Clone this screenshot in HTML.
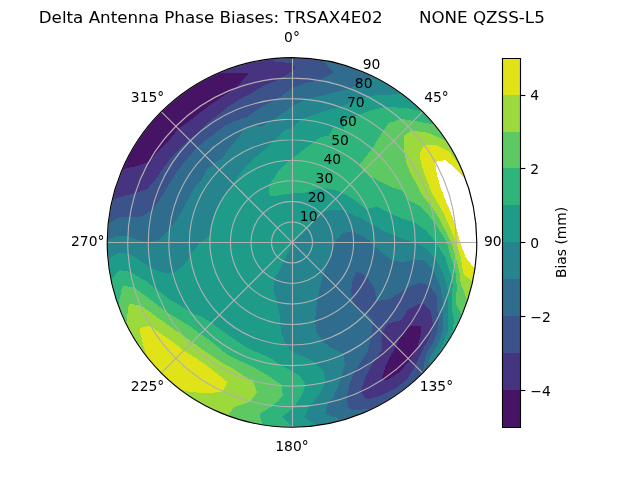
<!DOCTYPE html>
<html><head><meta charset="utf-8"><title>Delta Antenna Phase Biases</title>
<style>html,body{margin:0;padding:0;background:#fff;width:640px;height:480px;overflow:hidden}svg{display:block}svg text{white-space:pre}</style></head>
<body>
<svg width="640" height="480" viewBox="0 0 460.8 345.6">
 
 <defs>
  <style type="text/css">*{stroke-linejoin: round; stroke-linecap: butt}</style>
 </defs>
 <g id="figure_1">
  <g id="patch_1">
   <path d="M 0 345.6 
L 460.8 345.6 
L 460.8 0 
L 0 0 
z
" style="fill: #ffffff"/>
  </g>
  <g id="axes_1">
   <g id="patch_2">
    <path d="M 343.296 174.528 
C 343.296 157.055246 339.854248 139.752393 333.167715 123.609673 
C 326.481182 107.466954 316.679903 92.798303 304.3248 80.4432 
C 291.969697 68.088097 277.301046 58.286818 261.158327 51.600285 
C 245.015607 44.913752 227.712754 41.472 210.24 41.472 
C 192.767246 41.472 175.464393 44.913752 159.321673 51.600285 
C 143.178954 58.286818 128.510303 68.088097 116.1552 80.4432 
C 103.800097 92.798303 93.998818 107.466954 87.312285 123.609673 
C 80.625752 139.752393 77.184 157.055246 77.184 174.528 
C 77.184 192.000754 80.625752 209.303607 87.312285 225.446327 
C 93.998818 241.589046 103.800097 256.257697 116.1552 268.6128 
C 128.510303 280.967903 143.178954 290.769182 159.321673 297.455715 
C 175.464393 304.142248 192.767246 307.584 210.24 307.584 
C 227.712754 307.584 245.015607 304.142248 261.158327 297.455715 
C 277.301046 290.769182 291.969697 280.967903 304.3248 268.6128 
C 316.679903 256.257697 326.481182 241.589046 333.167715 225.446327 
C 339.854248 209.303607 343.296 192.000754 343.296 174.528 
M 210.24 174.528 
C 210.24 174.528 210.24 174.528 210.24 174.528 
C 210.24 174.528 210.24 174.528 210.24 174.528 
C 210.24 174.528 210.24 174.528 210.24 174.528 
C 210.24 174.528 210.24 174.528 210.24 174.528 
C 210.24 174.528 210.24 174.528 210.24 174.528 
C 210.24 174.528 210.24 174.528 210.24 174.528 
C 210.24 174.528 210.24 174.528 210.24 174.528 
C 210.24 174.528 210.24 174.528 210.24 174.528 
C 210.24 174.528 210.24 174.528 210.24 174.528 
C 210.24 174.528 210.24 174.528 210.24 174.528 
C 210.24 174.528 210.24 174.528 210.24 174.528 
C 210.24 174.528 210.24 174.528 210.24 174.528 
C 210.24 174.528 210.24 174.528 210.24 174.528 
C 210.24 174.528 210.24 174.528 210.24 174.528 
C 210.24 174.528 210.24 174.528 210.24 174.528 
C 210.24 174.528 210.24 174.528 210.24 174.528 
z
" style="fill: #ffffff"/>
   </g>
   <g id="QuadContourSet_1" shape-rendering="crispEdges">
    <path d="M 289.155157 240.745679 
L 288.736916 241.966864 
L 285.092115 249.380115 
L 280.27514 257.99263 
L 277.977655 262.311737 
L 276.148038 268.654433 
L 274.586051 273.764342 
L 279.392993 273.28871 
L 288.168863 267.400002 
L 295.02207 259.31007 
L 300.308822 251.182245 
L 300.568168 250.322333 
L 303.154902 239.587715 
L 303.199344 234.967513 
L 295.657603 234.33805 
L 293.027687 236.624417 
z
M 108.185074 115.606561 
L 114.823973 107.716979 
L 122.168462 100.627205 
L 128.404979 92.692979 
L 136.700686 86.887258 
L 144.605889 80.792775 
L 152.545078 74.597463 
L 161.033452 69.004217 
L 169.651365 63.438717 
L 169.772832 63.34537 
L 177.987477 54.159945 
L 178.752583 52.872817 
L 177.528307 52.446301 
L 165.97522 52.911517 
L 157.600669 52.327345 
L 154.008105 53.938311 
L 143.712 59.298124 
L 133.922214 65.534906 
L 124.713252 72.601191 
L 116.1552 80.4432 
L 108.313191 89.001252 
L 101.246906 98.210214 
L 95.010124 108 
L 89.650311 118.296105 
L 87.953809 122.087685 
L 94.350441 120.487811 
L 97.037925 119.968572 
L 107.204059 116.460273 
z
" clip-path="url(#pded382b021)" style="fill: #471365"/>
    <path d="M 279.754746 232.857798 
L 274.957757 239.245757 
L 274.638685 245.852965 
L 275.153228 251.888573 
L 269.975534 259.034995 
L 269.674078 259.408661 
L 264.503908 268.515846 
L 262.874614 272.118839 
L 260.002921 281.244928 
L 259.847663 281.893478 
L 261.800151 285.099101 
L 264.890972 287.685908 
L 273.915212 284.816702 
L 284.162829 280.100741 
L 293.058136 273.226811 
L 299.097867 263.385867 
L 299.097867 263.385867 
L 303.630372 252.891826 
L 308.959255 243.651967 
L 311.808669 235.125619 
L 311.734597 233.125933 
L 309.817706 223.299456 
L 304.525345 218.493978 
L 304.112862 218.090048 
L 303.714184 218.115728 
L 293.591384 222.650944 
L 289.346994 229.919313 
L 288.104742 230.844278 
z
M 293.027687 236.624417 
L 295.657603 234.33805 
L 303.199344 234.967513 
L 303.154902 239.587715 
L 300.568168 250.322333 
L 300.308822 251.182245 
L 295.02207 259.31007 
L 288.168863 267.400002 
L 279.392993 273.28871 
L 274.586051 273.764342 
L 276.148038 268.654433 
L 277.977655 262.311737 
L 280.27514 257.99263 
L 285.092115 249.380115 
L 288.736916 241.966864 
L 289.155157 240.745679 
z
M 112.371849 128.891332 
L 117.440176 120.949997 
L 123.123372 113.52828 
L 129.665198 106.917713 
L 136.261637 100.549637 
L 143.354504 94.81697 
L 149.894486 88.345674 
L 157.178038 82.621986 
L 164.579825 76.609439 
L 172.676924 71.324296 
L 178.965518 68.149989 
L 181.405175 66.914967 
L 190.275373 61.302972 
L 200.022988 57.747016 
L 202.220887 56.52817 
L 210.24 51.466611 
L 210.24 48.864 
L 210.24 45.391522 
L 198.866986 44.533854 
L 195.780553 42.260001 
L 187.135068 43.49342 
L 175.802573 46.005773 
L 164.732168 49.496259 
L 157.600669 52.327345 
L 165.97522 52.911517 
L 177.528307 52.446301 
L 178.752583 52.872817 
L 177.987477 54.159945 
L 169.772832 63.34537 
L 169.651365 63.438717 
L 161.033452 69.004217 
L 152.545078 74.597463 
L 144.605889 80.792775 
L 136.700686 86.887258 
L 128.404979 92.692979 
L 122.168462 100.627205 
L 114.823973 107.716979 
L 108.185074 115.606561 
L 107.204059 116.460273 
L 97.037925 119.968572 
L 94.350441 120.487811 
L 87.953809 122.087685 
L 85.208259 129.020168 
L 81.717773 140.090573 
L 80.744323 143.954014 
L 87.542338 141.651261 
L 89.129254 141.007437 
L 97.395904 139.109418 
L 105.349863 136.351112 
L 106.38694 135.683228 
z
M 212.928322 48.892759 
L 210.24 45.391522 
L 210.24 48.864 
L 210.24 51.466611 
z
" clip-path="url(#pded382b021)" style="fill: #463480"/>
    <path d="M 256.674515 196.18077 
L 254.266316 199.946606 
L 253.719209 202.581518 
L 253.186046 204.599145 
L 252.883676 210.310293 
L 253.378721 214.976946 
L 256.276528 220.564528 
L 256.939933 221.910391 
L 259.131184 223.419184 
L 263.752579 225.523787 
L 269.063815 230.665333 
L 268.451417 232.739417 
L 267.121303 242.316497 
L 267.113001 242.600472 
L 264.957728 252.673014 
L 264.631231 253.749432 
L 259.892372 260.528431 
L 255.172721 267.75255 
L 254.408358 269.247349 
L 251.309836 277.521412 
L 250.050449 283.90631 
L 249.514057 286.08881 
L 250.748183 293.483992 
L 254.240518 295.418429 
L 266.138613 294.402963 
L 269.274296 293.770824 
L 276.768 289.757876 
L 286.557786 283.521094 
L 295.766748 276.454809 
L 304.3248 268.6128 
L 304.3248 268.6128 
L 306.467693 255.34676 
L 306.489326 255.290774 
L 312.272532 245.971948 
L 315.696576 235.413383 
L 315.787602 227.894373 
L 314.860979 223.313564 
L 314.373186 212.615453 
L 314.140446 212.344669 
L 309.057716 205.26601 
L 301.834463 203.595087 
L 296.0991 205.778157 
L 292.427128 207.89978 
L 287.933256 210.75696 
L 280.772823 215.250144 
L 280.499627 215.457527 
L 270.944257 216.708085 
L 270.088604 209.081608 
L 268.741428 206.206979 
L 264.582788 199.868458 
L 263.985059 199.196505 
L 257.434089 195.744962 
z
M 288.104742 230.844278 
L 289.346994 229.919313 
L 293.591384 222.650944 
L 303.714184 218.115728 
L 304.112862 218.090048 
L 304.525345 218.493978 
L 309.817706 223.299456 
L 311.734597 233.125933 
L 311.808669 235.125619 
L 308.959255 243.651967 
L 303.630372 252.891826 
L 299.097867 263.385867 
L 299.097867 263.385867 
L 293.058136 273.226811 
L 284.162829 280.100741 
L 273.915212 284.816702 
L 264.890972 287.685908 
L 261.800151 285.099101 
L 259.847663 281.893478 
L 260.002921 281.244928 
L 262.874614 272.118839 
L 264.503908 268.515846 
L 269.674078 259.408661 
L 269.975534 259.034995 
L 275.153228 251.888573 
L 274.638685 245.852965 
L 274.957757 239.245757 
L 279.754746 232.857798 
z
M 177.435255 84.397704 
L 178.727195 83.745929 
L 184.713629 79.262288 
L 192.650265 74.771658 
L 197.7111 71.801213 
L 201.121173 70.299331 
L 209.92549 63.648446 
L 210.24 63.467745 
L 210.24 56.256 
L 210.24 51.466611 
L 202.220887 56.52817 
L 200.022988 57.747016 
L 190.275373 61.302972 
L 181.405175 66.914967 
L 178.965518 68.149989 
L 172.676924 71.324296 
L 164.579825 76.609439 
L 157.178038 82.621986 
L 149.894486 88.345674 
L 143.354504 94.81697 
L 136.261637 100.549637 
L 129.665198 106.917713 
L 123.123372 113.52828 
L 117.440176 120.949997 
L 112.371849 128.891332 
L 106.38694 135.683228 
L 105.349863 136.351112 
L 97.395904 139.109418 
L 89.129254 141.007437 
L 87.542338 141.651261 
L 80.744323 143.954014 
L 79.20542 151.423068 
L 77.895435 160.786998 
L 85.875857 156.500221 
L 93.423125 156.032497 
L 100.909805 156.054158 
L 102.960686 155.611762 
L 109.438796 151.099738 
L 111.868619 148.169468 
L 117.072695 140.617874 
L 121.470702 133.134197 
L 125.902921 125.835965 
L 130.876935 118.957383 
L 136.300861 112.485696 
L 141.905974 106.193974 
L 148.310192 100.722929 
L 155.097914 95.77694 
L 161.776971 90.587571 
L 169.483876 87.12621 
L 172.731894 86.05437 
z
M 220.300648 59.534265 
L 229.733534 57.873518 
L 231.007879 56.747505 
L 240.311477 52.515102 
L 233.22428 44.177669 
L 233.049269 43.44163 
L 221.836595 41.978318 
L 210.24 41.472 
L 210.24 45.391522 
L 212.928322 48.892759 
L 210.24 51.466611 
L 210.24 56.256 
L 210.24 63.467745 
z
M 198.866986 44.533854 
L 210.24 45.391522 
L 210.24 41.472 
L 198.643405 41.978318 
L 195.780553 42.260001 
z
" clip-path="url(#pded382b021)" style="fill: #3b528b"/>
    <path d="M 238.55191 182.114154 
L 237.660372 184.508199 
L 236.803679 186.914847 
L 236.296645 188.503618 
L 235.962083 189.378652 
L 235.064539 191.91033 
L 234.118293 194.564267 
L 233.072105 197.360105 
L 231.938437 200.38719 
L 231.129136 204.360778 
L 230.950943 205.140064 
L 229.981397 208.721103 
L 228.858856 214.456267 
L 228.806049 214.807048 
L 227.599306 222.222301 
L 227.446247 223.327453 
L 226.906227 231.266905 
L 227.707012 238.722067 
L 231.835559 245.223108 
L 237.805413 250.26335 
L 238.971254 250.594789 
L 247.693916 254.936978 
L 248.142096 262.833563 
L 245.721488 271.74338 
L 245.66723 271.863514 
L 242.500622 280.611112 
L 240.029165 285.702677 
L 236.407125 289.869005 
L 233.991917 297.926895 
L 244.278743 301.562317 
L 246.413161 302.57253 
L 255.747832 299.559741 
L 266.471895 295.117689 
L 269.274296 293.770824 
L 266.138613 294.402963 
L 254.240518 295.418429 
L 250.748183 293.483992 
L 249.514057 286.08881 
L 250.050449 283.90631 
L 251.309836 277.521412 
L 254.408358 269.247349 
L 255.172721 267.75255 
L 259.892372 260.528431 
L 264.631231 253.749432 
L 264.957728 252.673014 
L 267.113001 242.600472 
L 267.121303 242.316497 
L 268.451417 232.739417 
L 269.063815 230.665333 
L 263.752579 225.523787 
L 259.131184 223.419184 
L 256.939933 221.910391 
L 256.276528 220.564528 
L 253.378721 214.976946 
L 252.883676 210.310293 
L 253.186046 204.599145 
L 253.719209 202.581518 
L 254.266316 199.946606 
L 256.674515 196.18077 
L 257.434089 195.744962 
L 263.985059 199.196505 
L 264.582788 199.868458 
L 268.741428 206.206979 
L 270.088604 209.081608 
L 270.944257 216.708085 
L 280.499627 215.457527 
L 280.772823 215.250144 
L 287.933256 210.75696 
L 292.427128 207.89978 
L 296.0991 205.778157 
L 301.834463 203.595087 
L 309.057716 205.26601 
L 314.140446 212.344669 
L 314.373186 212.615453 
L 314.860979 223.313564 
L 315.787602 227.894373 
L 315.696576 235.413383 
L 312.272532 245.971948 
L 306.489326 255.290774 
L 306.467693 255.34676 
L 304.3248 268.6128 
L 308.545349 264.19381 
L 309.477156 257.797861 
L 315.154144 247.989674 
L 319.094797 237.375346 
L 319.098487 237.307541 
L 319.063461 225.273213 
L 319.162531 220.616481 
L 318.505218 213.933317 
L 316.836535 205.049355 
L 315.545888 202.744628 
L 311.826423 194.275524 
L 309.850247 192.091974 
L 305.425358 187.726061 
L 298.103953 186.706892 
L 290.990065 188.766415 
L 290.248258 189.030413 
L 282.980886 187.678282 
L 282.30415 187.234854 
L 276.237696 182.91125 
L 273.289477 180.044115 
L 269.346802 176.386071 
L 267.114184 174.528 
L 261.815784 170.359061 
L 261.137315 170.075062 
L 254.35329 166.749637 
L 253.851262 166.455965 
L 246.588715 167.833787 
L 246.222046 168.183394 
L 243.339567 171.632163 
L 241.542357 174.528 
L 240.32203 177.159837 
L 239.404024 179.670404 
L 239.288101 180.048366 
z
M 137.037247 140.392996 
L 140.523798 134.277332 
L 145.499096 129.195931 
L 148.423241 122.657581 
L 153.809373 118.097373 
L 159.6207 114.202267 
L 163.918831 108.374515 
L 164.933956 107.007605 
L 168.763316 102.688276 
L 173.748456 96.271632 
L 175.075519 93.091774 
L 179.662696 90.517549 
L 182.71993 90.200986 
L 188.003953 91.541943 
L 193.937959 87.334863 
L 194.791579 86.915652 
L 202.188084 82.494178 
L 208.016985 78.457716 
L 210.24 76.616708 
L 210.24 71.04 
L 210.24 63.648 
L 210.24 63.467745 
L 209.92549 63.648446 
L 201.121173 70.299331 
L 197.7111 71.801213 
L 192.650265 74.771658 
L 184.713629 79.262288 
L 178.727195 83.745929 
L 177.435255 84.397704 
L 172.731894 86.05437 
L 169.483876 87.12621 
L 161.776971 90.587571 
L 155.097914 95.77694 
L 148.310192 100.722929 
L 141.905974 106.193974 
L 136.300861 112.485696 
L 130.876935 118.957383 
L 125.902921 125.835965 
L 121.470702 133.134197 
L 117.072695 140.617874 
L 111.868619 148.169468 
L 109.438796 151.099738 
L 102.960686 155.611762 
L 100.909805 156.054158 
L 93.423125 156.032497 
L 85.875857 156.500221 
L 77.895435 160.786998 
L 77.690318 162.931405 
L 77.194052 172.892512 
L 84.662351 169.870204 
L 92.045411 170.249559 
L 99.376013 172.643641 
L 106.752046 174.430122 
L 114.164686 172.534196 
L 120.394762 166.66756 
L 122.094712 164.587789 
L 126.091055 159.690271 
L 130.259391 153.09726 
L 133.813807 146.711141 
L 133.910924 146.500986 
z
M 219.233512 71.731682 
L 219.971722 71.498588 
L 228.750633 69.548981 
L 238.197177 67.23042 
L 239.059155 66.973449 
L 250.382644 64.236991 
L 251.767497 63.78626 
L 259.935088 59.107728 
L 265.617611 55.770331 
L 268.131049 54.725973 
L 266.471895 53.938311 
L 255.747832 49.496259 
L 244.677427 46.005773 
L 233.344932 43.49342 
L 233.049269 43.44163 
L 233.22428 44.177669 
L 240.311477 52.515102 
L 231.007879 56.747505 
L 229.733534 57.873518 
L 220.300648 59.534265 
L 210.24 63.467745 
L 210.24 63.648 
L 210.24 71.04 
L 210.24 76.616708 
z
" clip-path="url(#pded382b021)" style="fill: #2f6c8e"/>
    <path d="M 211.849079 173.401311 
L 211.191777 173.978491 
L 210.937728 174.202644 
L 210.802409 174.3233 
L 210.718059 174.399904 
L 210.660257 174.453897 
L 210.618025 174.494927 
L 210.585681 174.528 
L 210.559976 174.555994 
L 210.538904 174.580705 
L 210.52115 174.603334 
L 210.505803 174.624745 
L 210.492203 174.645604 
L 210.479842 174.666473 
L 210.46831 174.687864 
L 210.457248 174.710293 
L 210.446322 174.734322 
L 210.435186 174.760614 
L 210.423452 174.789997 
L 210.410644 174.823564 
L 210.396133 174.862829 
L 210.379031 174.909986 
L 210.358001 174.968386 
L 210.330887 175.043448 
L 210.293945 175.14459 
L 210.24 175.2898 
L 210.153362 175.518275 
L 209.991947 175.934778 
L 209.592067 176.946117 
L 207.768258 181.494502 
L 207.529807 181.974193 
L 204.35357 188.089586 
L 201.105884 194.735496 
L 199.746976 197.030362 
L 197.104495 201.018095 
L 197.076093 202.758089 
L 197.151225 209.092802 
L 197.402182 209.799616 
L 199.124805 216.010471 
L 199.359286 217.524627 
L 201.168697 225.470644 
L 201.218219 225.693063 
L 201.801028 233.058763 
L 202.6116 240.6172 
L 204.180885 243.784003 
L 206.038469 248.328498 
L 210.24 252.969002 
L 215.654928 255.659498 
L 217.398522 256.350281 
L 225.256943 259.693318 
L 227.309449 261.574157 
L 233.289567 267.818721 
L 234.279073 275.185285 
L 230.361332 283.567013 
L 229.606307 284.359784 
L 223.552588 292.048385 
L 220.941824 296.850411 
L 218.849592 299.896719 
L 221.385616 301.922972 
L 228.157989 306.372017 
L 233.344932 305.56258 
L 244.677427 303.050227 
L 246.413161 302.57253 
L 244.278743 301.562317 
L 233.991917 297.926895 
L 236.407125 289.869005 
L 240.029165 285.702677 
L 242.500622 280.611112 
L 245.66723 271.863514 
L 245.721488 271.74338 
L 248.142096 262.833563 
L 247.693916 254.936978 
L 238.971254 250.594789 
L 237.805413 250.26335 
L 231.835559 245.223108 
L 227.707012 238.722067 
L 226.906227 231.266905 
L 227.446247 223.327453 
L 227.599306 222.222301 
L 228.806049 214.807048 
L 228.858856 214.456267 
L 229.981397 208.721103 
L 230.950943 205.140064 
L 231.129136 204.360778 
L 231.938437 200.38719 
L 233.072105 197.360105 
L 234.118293 194.564267 
L 235.064539 191.91033 
L 235.962083 189.378652 
L 236.296645 188.503618 
L 236.803679 186.914847 
L 237.660372 184.508199 
L 238.55191 182.114154 
L 239.288101 180.048366 
L 239.404024 179.670404 
L 240.32203 177.159837 
L 241.542357 174.528 
L 243.339567 171.632163 
L 246.222046 168.183394 
L 246.588715 167.833787 
L 253.851262 166.455965 
L 254.35329 166.749637 
L 261.137315 170.075062 
L 261.815784 170.359061 
L 267.114184 174.528 
L 269.346802 176.386071 
L 273.289477 180.044115 
L 276.237696 182.91125 
L 282.30415 187.234854 
L 282.980886 187.678282 
L 290.248258 189.030413 
L 290.990065 188.766415 
L 298.103953 186.706892 
L 305.425358 187.726061 
L 309.850247 192.091974 
L 311.826423 194.275524 
L 315.545888 202.744628 
L 316.836535 205.049355 
L 318.505218 213.933317 
L 319.162531 220.616481 
L 319.063461 225.273213 
L 319.098487 237.307541 
L 319.094797 237.375346 
L 315.154144 247.989674 
L 309.477156 257.797861 
L 308.545349 264.19381 
L 312.166809 260.054748 
L 313.399921 258.563289 
L 317.873444 249.893749 
L 322.247291 239.19544 
L 322.507346 230.985807 
L 322.400798 226.829439 
L 322.263769 215.301318 
L 322.598944 211.456766 
L 321.520065 204.345404 
L 318.932595 196.443613 
L 317.509223 193.442458 
L 313.111875 185.803796 
L 310.618672 183.309996 
L 306.257525 178.41079 
L 298.943837 174.698149 
L 298.188119 174.528 
L 291.525138 172.438091 
L 284.005298 169.748122 
L 281.055518 168.332445 
L 276.267724 166.384629 
L 271.849155 163.664644 
L 267.97717 161.741848 
L 265.022894 159.848968 
L 259.292983 156.674174 
L 258.727586 156.461578 
L 253.291128 154.452929 
L 249.201929 152.03332 
L 248.163048 151.529254 
L 243.308101 151.373467 
L 238.803217 151.071993 
L 237.832466 151.375172 
L 231.837721 152.930279 
L 230.780824 153.259686 
L 227.988455 156.779545 
L 226.211877 159.143783 
L 221.838094 164.796044 
L 221.620584 165.091424 
L 215.936437 169.817133 
z
M 154.943763 154.401816 
L 155.323624 152.590404 
L 156.409475 149.426414 
L 157.587155 147.606923 
L 159.465122 145.213111 
L 160.673054 142.276111 
L 161.6564 140.509397 
L 164.589967 136.223074 
L 167.664153 131.952153 
L 170.865761 127.60361 
L 174.315414 123.222375 
L 178.14153 118.93182 
L 182.397415 114.819383 
L 183.622063 113.557022 
L 187.027525 110.752249 
L 191.987423 106.408454 
L 196.641272 101.869614 
L 197.304603 101.167717 
L 203.271863 94.881834 
L 206.714511 93.292464 
L 210.24 92.359858 
L 210.24 85.824 
L 210.24 78.432 
L 210.24 76.616708 
L 208.016985 78.457716 
L 202.188084 82.494178 
L 194.791579 86.915652 
L 193.937959 87.334863 
L 188.003953 91.541943 
L 182.71993 90.200986 
L 179.662696 90.517549 
L 175.075519 93.091774 
L 173.748456 96.271632 
L 168.763316 102.688276 
L 164.933956 107.007605 
L 163.918831 108.374515 
L 159.6207 114.202267 
L 153.809373 118.097373 
L 148.423241 122.657581 
L 145.499096 129.195931 
L 140.523798 134.277332 
L 137.037247 140.392996 
L 133.910924 146.500986 
L 133.813807 146.711141 
L 130.259391 153.09726 
L 126.091055 159.690271 
L 122.094712 164.587789 
L 120.394762 166.66756 
L 114.164686 172.534196 
L 106.752046 174.430122 
L 99.376013 172.643641 
L 92.045411 170.249559 
L 84.662351 169.870204 
L 77.194052 172.892512 
L 77.184 174.528 
L 77.690318 186.124595 
L 77.810178 187.421466 
L 79.547155 185.962142 
L 84.8011 182.046191 
L 92.245855 182.63033 
L 95.950888 184.527002 
L 100.091049 187.239532 
L 108.105978 192.536984 
L 108.356982 192.683352 
L 116.608211 196.150426 
L 124.330913 196.619365 
L 130.907516 192.360506 
L 134.414504 187.898081 
L 136.900047 183.770173 
L 139.439994 180.722198 
L 143.71276 174.845996 
L 144.38651 174.528 
L 151.165583 169.359658 
L 151.407934 164.154319 
L 152.950827 159.177412 
L 153.801961 156.869738 
z
M 216.629371 86.054413 
L 218.036471 85.413925 
L 226.450588 82.593186 
L 231.266468 80.760581 
L 235.715891 79.450679 
L 245.347981 77.17711 
L 245.712695 77.067572 
L 253.882989 72.598299 
L 258.367709 71.317795 
L 264.95745 69.674451 
L 271.522175 68.384159 
L 277.331349 68.272686 
L 284.889642 67.917263 
L 288.987348 67.277105 
L 286.557786 65.534906 
L 276.768 59.298124 
L 268.131049 54.725973 
L 265.617611 55.770331 
L 259.935088 59.107728 
L 251.767497 63.78626 
L 250.382644 64.236991 
L 239.059155 66.973449 
L 238.197177 67.23042 
L 228.750633 69.548981 
L 219.971722 71.498588 
L 219.233512 71.731682 
L 210.24 76.616708 
L 210.24 78.432 
L 210.24 85.824 
L 210.24 92.359858 
z
" clip-path="url(#pded382b021)" style="fill: #25848e"/>
    <path d="M 210.24 174.528 
L 210.24 174.528 
L 210.24 174.528 
L 210.24 174.528 
L 210.24 174.528 
L 210.24 174.528 
L 210.24 174.528 
L 210.24 174.528 
L 210.24 174.528 
L 210.24 174.528 
L 210.24 174.528 
L 210.24 174.528 
L 210.24 174.528 
L 210.24 174.528 
L 210.24 174.528 
L 210.24 174.528 
L 210.24 174.528 
L 210.24 174.528 
L 210.24 174.528 
L 210.24 174.528 
L 210.24 174.528 
L 210.24 174.528 
L 210.24 174.528 
L 210.24 174.528 
L 210.24 174.528 
L 210.24 174.528 
L 210.24 174.528 
L 210.24 174.528 
L 210.24 174.528 
L 210.24 174.528 
L 210.24 174.528 
L 210.24 174.528 
L 210.24 174.528 
L 210.24 174.528 
L 210.24 174.528 
L 210.24 174.528 
L 210.24 174.528 
L 210.24 174.528 
L 210.24 174.528 
L 210.24 174.528 
L 210.24 174.528 
L 210.24 174.528 
L 210.24 174.528 
L 210.24 174.528 
L 210.24 174.528 
L 210.24 174.528 
L 210.24 174.528 
L 210.24 174.528 
L 210.24 174.528 
L 210.24 174.528 
L 210.24 174.528 
L 210.24 174.528 
L 210.24 174.528 
L 210.24 174.528 
L 210.24 174.528 
L 210.24 174.528 
L 210.24 174.528 
L 210.24 174.528 
L 210.24 174.528 
L 210.24 174.528 
L 210.24 174.528 
L 210.24 174.528 
L 210.24 174.528 
L 210.24 174.528 
L 210.24 174.528 
L 210.24 174.528 
L 210.24 174.528 
L 210.24 174.528 
L 210.24 174.528 
L 210.24 174.528 
L 210.24 174.528 
L 210.24 174.528 
L 210.24 167.136 
L 210.24 159.744 
L 210.24 152.352 
L 210.24 144.96 
L 210.24 139.19078 
L 207.182153 139.576645 
L 204.160247 140.048009 
L 201.149059 140.600146 
L 198.105867 141.189743 
L 194.760566 141.332246 
L 194.26907 141.196769 
L 194.081617 139.876235 
L 193.277251 133.547943 
L 194.707843 131.853751 
L 197.759928 127.951738 
L 199.591528 123.891535 
L 201.066208 122.500841 
L 205.348908 118.622566 
L 208.344119 115.422398 
L 210.24 114.395877 
L 210.24 108 
L 210.24 100.608 
L 210.24 93.216 
L 210.24 92.359858 
L 206.714511 93.292464 
L 203.271863 94.881834 
L 197.304603 101.167717 
L 196.641272 101.869614 
L 191.987423 106.408454 
L 187.027525 110.752249 
L 183.622063 113.557022 
L 182.397415 114.819383 
L 178.14153 118.93182 
L 174.315414 123.222375 
L 170.865761 127.60361 
L 167.664153 131.952153 
L 164.589967 136.223074 
L 161.6564 140.509397 
L 160.673054 142.276111 
L 159.465122 145.213111 
L 157.587155 147.606923 
L 156.409475 149.426414 
L 155.323624 152.590404 
L 154.943763 154.401816 
L 153.801961 156.869738 
L 152.950827 159.177412 
L 151.407934 164.154319 
L 151.165583 169.359658 
L 144.38651 174.528 
L 143.71276 174.845996 
L 139.439994 180.722198 
L 136.900047 183.770173 
L 134.414504 187.898081 
L 130.907516 192.360506 
L 124.330913 196.619365 
L 116.608211 196.150426 
L 108.356982 192.683352 
L 108.105978 192.536984 
L 100.091049 187.239532 
L 95.950888 184.527002 
L 92.245855 182.63033 
L 84.8011 182.046191 
L 79.547155 185.962142 
L 77.810178 187.421466 
L 79.20542 197.632932 
L 79.993888 201.728174 
L 83.708324 196.838948 
L 86.155081 194.386844 
L 91.586744 195.44977 
L 93.898858 195.811907 
L 102.554705 200.952451 
L 105.465627 202.602209 
L 112.350427 208.104742 
L 114.280731 209.454318 
L 122.175733 215.593042 
L 123.950543 216.819499 
L 130.72035 220.438691 
L 137.42391 225.185839 
L 137.724145 225.304148 
L 145.975544 228.452281 
L 152.447118 232.320882 
L 157.957559 236.835787 
L 158.525265 237.275331 
L 163.877307 240.740787 
L 169.36429 244.81895 
L 169.57659 244.959091 
L 175.528376 248.967318 
L 181.927737 252.315302 
L 188.646531 255.115924 
L 195.471096 258.286618 
L 201.966898 262.845356 
L 202.493013 263.076469 
L 210.24 267.269893 
L 215.621564 270.473193 
L 219.064554 275.393118 
L 220.235606 277.532146 
L 219.406122 279.297249 
L 216.89686 285.207992 
L 211.933342 292.787877 
L 210.24 294.648 
L 203.193963 299.994307 
L 210.24 306.714353 
L 211.22123 307.580382 
L 221.836595 307.077682 
L 228.157989 306.372017 
L 221.385616 301.922972 
L 218.849592 299.896719 
L 220.941824 296.850411 
L 223.552588 292.048385 
L 229.606307 284.359784 
L 230.361332 283.567013 
L 234.279073 275.185285 
L 233.289567 267.818721 
L 227.309449 261.574157 
L 225.256943 259.693318 
L 217.398522 256.350281 
L 215.654928 255.659498 
L 210.24 252.969002 
L 206.038469 248.328498 
L 204.180885 243.784003 
L 202.6116 240.6172 
L 201.801028 233.058763 
L 201.218219 225.693063 
L 201.168697 225.470644 
L 199.359286 217.524627 
L 199.124805 216.010471 
L 197.402182 209.799616 
L 197.151225 209.092802 
L 197.076093 202.758089 
L 197.104495 201.018095 
L 199.746976 197.030362 
L 201.105884 194.735496 
L 204.35357 188.089586 
L 207.529807 181.974193 
L 207.768258 181.494502 
L 209.592067 176.946117 
L 209.991947 175.934778 
L 210.153362 175.518275 
L 210.24 175.2898 
L 210.293945 175.14459 
L 210.330887 175.043448 
L 210.358001 174.968386 
L 210.379031 174.909986 
L 210.396133 174.862829 
L 210.410644 174.823564 
L 210.423452 174.789997 
L 210.435186 174.760614 
L 210.446322 174.734322 
L 210.457248 174.710293 
L 210.46831 174.687864 
L 210.479842 174.666473 
L 210.492203 174.645604 
L 210.505803 174.624745 
L 210.52115 174.603334 
L 210.538904 174.580705 
L 210.559976 174.555994 
L 210.585681 174.528 
L 210.618025 174.494927 
L 210.660257 174.453897 
L 210.718059 174.399904 
L 210.802409 174.3233 
L 210.937728 174.202644 
L 211.191777 173.978491 
L 211.849079 173.401311 
L 215.936437 169.817133 
L 221.620584 165.091424 
L 221.838094 164.796044 
L 226.211877 159.143783 
L 227.988455 156.779545 
L 230.780824 153.259686 
L 231.837721 152.930279 
L 237.832466 151.375172 
L 238.803217 151.071993 
L 243.308101 151.373467 
L 248.163048 151.529254 
L 249.201929 152.03332 
L 253.291128 154.452929 
L 258.727586 156.461578 
L 259.292983 156.674174 
L 265.022894 159.848968 
L 267.97717 161.741848 
L 271.849155 163.664644 
L 276.267724 166.384629 
L 281.055518 168.332445 
L 284.005298 169.748122 
L 291.525138 172.438091 
L 298.188119 174.528 
L 298.943837 174.698149 
L 306.257525 178.41079 
L 310.618672 183.309996 
L 313.111875 185.803796 
L 317.509223 193.442458 
L 318.932595 196.443613 
L 321.520065 204.345404 
L 322.598944 211.456766 
L 322.263769 215.301318 
L 322.400798 226.829439 
L 322.507346 230.985807 
L 322.247291 239.19544 
L 317.873444 249.893749 
L 313.399921 258.563289 
L 319.233094 250.845786 
L 325.221911 241.483651 
L 325.399785 241.015533 
L 327.113921 229.027204 
L 325.51043 224.569672 
L 325.164949 216.357261 
L 325.905882 205.52058 
L 325.540854 200.871483 
L 323.304638 194.464346 
L 320.591775 185.338189 
L 319.843529 184.117066 
L 313.789198 174.528 
L 313.727893 174.379048 
L 306.716346 166.087413 
L 305.877791 165.154949 
L 297.72087 159.848183 
L 296.463793 159.324419 
L 289.713694 157.335753 
L 283.459665 154.90885 
L 281.111465 153.518435 
L 275.181898 150.891082 
L 271.447655 148.458904 
L 264.307814 150.575172 
L 262.829517 150.005106 
L 258.552142 146.634972 
L 254.480363 143.550564 
L 250.27542 140.934294 
L 248.932668 140.17223 
L 246.0457 138.7223 
L 241.687763 137.050016 
L 237.223043 135.992221 
L 232.702316 135.622127 
L 231.443739 135.57288 
L 228.207446 135.996688 
L 223.69773 137.553191 
L 219.878818 138.555441 
L 219.0727 138.638935 
L 216.543197 138.780793 
L 213.350507 138.974741 
L 210.24 139.19078 
L 210.24 144.96 
L 210.24 152.352 
L 210.24 159.744 
L 210.24 167.136 
L 210.24 174.528 
z
M 215.884631 110.009572 
L 217.719256 108.421756 
L 222.536304 104.792197 
L 226.252646 102.363178 
L 230.554275 98.714094 
L 236.732955 97.653006 
L 240.382213 91.102305 
L 240.685923 90.878515 
L 243.782118 92.410243 
L 247.433673 94.76591 
L 247.980488 94.253127 
L 247.98373 93.58631 
L 247.910413 86.123355 
L 251.72631 85.560321 
L 258.270127 82.860814 
L 264.565052 80.434249 
L 267.137324 79.359366 
L 277.305624 77.108967 
L 278.443035 77.123971 
L 290.186381 77.574315 
L 291.69658 77.451828 
L 304.290408 80.408821 
L 295.766748 72.601191 
L 288.987348 67.277105 
L 284.889642 67.917263 
L 277.331349 68.272686 
L 271.522175 68.384159 
L 264.95745 69.674451 
L 258.367709 71.317795 
L 253.882989 72.598299 
L 245.712695 77.067572 
L 245.347981 77.17711 
L 235.715891 79.450679 
L 231.266468 80.760581 
L 226.450588 82.593186 
L 218.036471 85.413925 
L 216.629371 86.054413 
L 210.24 92.359858 
L 210.24 93.216 
L 210.24 100.608 
L 210.24 108 
L 210.24 114.395877 
z
" clip-path="url(#pded382b021)" style="fill: #1e9c89"/>
    <path d="M 213.350507 138.974741 
L 216.543197 138.780793 
L 219.0727 138.638935 
L 219.878818 138.555441 
L 223.69773 137.553191 
L 228.207446 135.996688 
L 231.443739 135.57288 
L 232.702316 135.622127 
L 237.223043 135.992221 
L 241.687763 137.050016 
L 246.0457 138.7223 
L 248.932668 140.17223 
L 250.27542 140.934294 
L 254.480363 143.550564 
L 258.552142 146.634972 
L 262.829517 150.005106 
L 264.307814 150.575172 
L 271.447655 148.458904 
L 275.181898 150.891082 
L 281.111465 153.518435 
L 283.459665 154.90885 
L 289.713694 157.335753 
L 296.463793 159.324419 
L 297.72087 159.848183 
L 305.877791 165.154949 
L 306.716346 166.087413 
L 313.727893 174.379048 
L 313.789198 174.528 
L 319.843529 184.117066 
L 320.591775 185.338189 
L 323.304638 194.464346 
L 325.540854 200.871483 
L 325.905882 205.52058 
L 325.164949 216.357261 
L 325.51043 224.569672 
L 327.113921 229.027204 
L 325.399785 241.015533 
L 325.221911 241.483651 
L 325.469876 241.056 
L 330.829689 230.759895 
L 332.428243 227.196136 
L 328.110634 218.093519 
L 328.066128 217.413203 
L 328.995731 206.348502 
L 327.816373 195.259887 
L 327.174537 192.264405 
L 324.197278 184.49797 
L 321.705418 174.528 
L 321.112218 173.214392 
L 315.842647 165.288966 
L 312.583807 159.181623 
L 310.175692 156.906641 
L 303.518135 149.534199 
L 302.712166 148.387232 
L 294.009573 144.038369 
L 291.871705 139.819725 
L 290.030223 137.321208 
L 281.058811 134.573809 
L 280.22461 134.122367 
L 273.276836 130.389132 
L 266.944872 127.107288 
L 266.821293 127.050658 
L 261.695461 123.072539 
L 258.741101 118.744404 
L 263.287987 112.903716 
L 267.987559 107.195845 
L 270.540845 102.664252 
L 271.709812 100.663913 
L 275.784511 94.442526 
L 280.061247 88.392247 
L 283.011718 87.802043 
L 288.189115 85.577444 
L 297.768292 86.999708 
L 300.919469 87.529868 
L 311.652171 89.433085 
L 313.03137 90.042301 
L 312.166809 89.001252 
L 304.3248 80.4432 
L 304.290408 80.408821 
L 291.69658 77.451828 
L 290.186381 77.574315 
L 278.443035 77.123971 
L 277.305624 77.108967 
L 267.137324 79.359366 
L 264.565052 80.434249 
L 258.270127 82.860814 
L 251.72631 85.560321 
L 247.910413 86.123355 
L 247.98373 93.58631 
L 247.980488 94.253127 
L 247.433673 94.76591 
L 243.782118 92.410243 
L 240.685923 90.878515 
L 240.382213 91.102305 
L 236.732955 97.653006 
L 230.554275 98.714094 
L 226.252646 102.363178 
L 222.536304 104.792197 
L 217.719256 108.421756 
L 215.884631 110.009572 
L 210.24 114.395877 
L 210.24 115.392 
L 210.24 122.784 
L 210.24 130.176 
L 210.24 137.568 
L 210.24 139.19078 
z
M 194.760566 141.332246 
L 198.105867 141.189743 
L 201.149059 140.600146 
L 204.160247 140.048009 
L 207.182153 139.576645 
L 210.24 139.19078 
L 210.24 137.568 
L 210.24 130.176 
L 210.24 122.784 
L 210.24 115.392 
L 210.24 114.395877 
L 208.344119 115.422398 
L 205.348908 118.622566 
L 201.066208 122.500841 
L 199.591528 123.891535 
L 197.759928 127.951738 
L 194.707843 131.853751 
L 193.277251 133.547943 
L 194.081617 139.876235 
L 194.26907 141.196769 
z
M 163.877307 240.740787 
L 158.525265 237.275331 
L 157.957559 236.835787 
L 152.447118 232.320882 
L 145.975544 228.452281 
L 137.724145 225.304148 
L 137.42391 225.185839 
L 130.72035 220.438691 
L 123.950543 216.819499 
L 122.175733 215.593042 
L 114.280731 209.454318 
L 112.350427 208.104742 
L 105.465627 202.602209 
L 102.554705 200.952451 
L 93.898858 195.811907 
L 91.586744 195.44977 
L 86.155081 194.386844 
L 83.708324 196.838948 
L 79.993888 201.728174 
L 81.717773 208.965427 
L 85.137588 219.841196 
L 87.767089 207.344518 
L 88.569653 205.956769 
L 91.810704 206.261034 
L 96.457648 206.805582 
L 104.751829 212.922554 
L 106.830122 214.537643 
L 113.457301 219.658514 
L 119.566084 224.407927 
L 121.680887 225.657628 
L 130.041033 230.683921 
L 134.312408 233.42997 
L 137.592129 235.486801 
L 144.286568 240.481432 
L 151.130185 244.972334 
L 157.321405 250.103586 
L 163.563389 255.374261 
L 170.842766 259.015641 
L 178.342621 262.16533 
L 185.711351 266.070163 
L 189.414767 268.340317 
L 193.284518 270.687318 
L 201.364499 275.975441 
L 203.341139 277.785793 
L 203.436624 285.199082 
L 200.249192 288.723456 
L 196.584658 292.009052 
L 188.667633 296.870974 
L 186.969554 298.018596 
L 187.776872 301.922731 
L 189.425456 305.94586 
L 198.643405 307.077682 
L 210.24 307.584 
L 211.22123 307.580382 
L 210.24 306.714353 
L 203.193963 299.994307 
L 210.24 294.648 
L 211.933342 292.787877 
L 216.89686 285.207992 
L 219.406122 279.297249 
L 220.235606 277.532146 
L 219.064554 275.393118 
L 215.621564 270.473193 
L 210.24 267.269893 
L 202.493013 263.076469 
L 201.966898 262.845356 
L 195.471096 258.286618 
L 188.646531 255.115924 
L 181.927737 252.315302 
L 175.528376 248.967318 
L 169.57659 244.959091 
L 169.36429 244.81895 
z
" clip-path="url(#pded382b021)" style="fill: #2fb47c"/>
    <path d="M 261.695461 123.072539 
L 266.821293 127.050658 
L 266.944872 127.107288 
L 273.276836 130.389132 
L 280.22461 134.122367 
L 281.058811 134.573809 
L 290.030223 137.321208 
L 291.871705 139.819725 
L 294.009573 144.038369 
L 302.712166 148.387232 
L 303.518135 149.534199 
L 310.175692 156.906641 
L 312.583807 159.181623 
L 315.842647 165.288966 
L 321.112218 173.214392 
L 321.705418 174.528 
L 324.197278 184.49797 
L 327.174537 192.264405 
L 327.816373 195.259887 
L 328.995731 206.348502 
L 328.066128 217.413203 
L 328.110634 218.093519 
L 332.428243 227.196136 
L 335.271741 220.035832 
L 336.407954 216.783727 
L 333.269824 207.493742 
L 331.949013 205.806699 
L 330.720635 195.771987 
L 328.064203 184.836282 
L 328.062445 184.8303 
L 324.958884 174.528 
L 320.785553 165.922466 
L 320.081502 164.918114 
L 315.522889 155.963786 
L 310.409148 148.529769 
L 309.738132 147.867556 
L 304.032247 140.390414 
L 300.00557 132.669627 
L 295.764475 125.150422 
L 292.481922 116.941586 
L 291.344997 110.249344 
L 290.94848 106.805544 
L 290.537578 98.064458 
L 296.652918 93.774835 
L 304.68932 95.27561 
L 307.953454 95.512041 
L 317.183954 99.645037 
L 321.562515 101.650041 
L 319.233094 98.210214 
L 313.03137 90.042301 
L 311.652171 89.433085 
L 300.919469 87.529868 
L 297.768292 86.999708 
L 288.189115 85.577444 
L 283.011718 87.802043 
L 280.061247 88.392247 
L 275.784511 94.442526 
L 271.709812 100.663913 
L 270.540845 102.664252 
L 267.987559 107.195845 
L 263.287987 112.903716 
L 258.741101 118.744404 
z
M 185.711351 266.070163 
L 178.342621 262.16533 
L 170.842766 259.015641 
L 163.563389 255.374261 
L 157.321405 250.103586 
L 151.130185 244.972334 
L 144.286568 240.481432 
L 137.592129 235.486801 
L 134.312408 233.42997 
L 130.041033 230.683921 
L 121.680887 225.657628 
L 119.566084 224.407927 
L 113.457301 219.658514 
L 106.830122 214.537643 
L 104.751829 212.922554 
L 96.457648 206.805582 
L 91.810704 206.261034 
L 88.569653 205.956769 
L 87.767089 207.344518 
L 85.137588 219.841196 
L 85.208259 220.035832 
L 89.650311 230.759895 
L 90.645685 232.846941 
L 91.339429 229.972247 
L 92.70369 218.987608 
L 100.871614 219.548242 
L 105.890669 223.186892 
L 113.472297 228.66104 
L 114.80298 229.628589 
L 123.176989 235.490176 
L 130.923093 241.082788 
L 131.117458 241.231745 
L 138.470676 246.297324 
L 145.604092 251.558075 
L 152.889163 256.433484 
L 160.143694 261.297347 
L 167.8154 265.507847 
L 175.293291 270.543294 
L 181.55373 273.960711 
L 183.01323 276.139691 
L 185.106474 282.52189 
L 180.256048 288.936167 
L 179.438973 289.478999 
L 168.669537 293.116943 
L 165.634211 297.081397 
L 164.02184 299.298913 
L 164.732168 299.559741 
L 175.802573 303.050227 
L 187.135068 305.56258 
L 189.425456 305.94586 
L 187.776872 301.922731 
L 186.969554 298.018596 
L 188.667633 296.870974 
L 196.584658 292.009052 
L 200.249192 288.723456 
L 203.436624 285.199082 
L 203.341139 277.785793 
L 201.364499 275.975441 
L 193.284518 270.687318 
L 189.414767 268.340317 
z
" clip-path="url(#pded382b021)" style="fill: #5ec962"/>
    <path d="M 292.481922 116.941586 
L 295.764475 125.150422 
L 300.00557 132.669627 
L 304.032247 140.390414 
L 309.738132 147.867556 
L 310.409148 148.529769 
L 315.522889 155.963786 
L 320.081502 164.918114 
L 320.785553 165.922466 
L 324.958884 174.528 
L 328.062445 184.8303 
L 328.064203 184.836282 
L 330.720635 195.771987 
L 331.949013 205.806699 
L 333.269824 207.493742 
L 336.407954 216.783727 
L 338.762227 208.965427 
L 340.272613 202.731168 
L 333.800286 197.425525 
L 333.624897 196.284086 
L 331.747188 185.158501 
L 328.508801 175.397932 
L 328.21235 174.528 
L 324.294639 164.549512 
L 320.054148 155.164803 
L 318.982602 152.861876 
L 315.311979 146.374048 
L 310.570274 138.010767 
L 307.148969 129.338606 
L 304.035949 120.374884 
L 302.055051 112.363936 
L 302.396643 109.999224 
L 305.273685 104.122995 
L 310.316314 104.45381 
L 314.773237 104.783872 
L 323.498166 109.138368 
L 330.196649 118.591296 
L 331.542243 119.850172 
L 330.829689 118.296105 
L 325.469876 108 
L 321.562515 101.650041 
L 317.183954 99.645037 
L 307.953454 95.512041 
L 304.68932 95.27561 
L 296.652918 93.774835 
L 290.537578 98.064458 
L 290.94848 106.805544 
L 291.344997 110.249344 
z
M 175.293291 270.543294 
L 167.8154 265.507847 
L 160.143694 261.297347 
L 152.889163 256.433484 
L 145.604092 251.558075 
L 138.470676 246.297324 
L 131.117458 241.231745 
L 130.923093 241.082788 
L 123.176989 235.490176 
L 114.80298 229.628589 
L 113.472297 228.66104 
L 105.890669 223.186892 
L 100.871614 219.548242 
L 92.70369 218.987608 
L 91.339429 229.972247 
L 90.645685 232.846941 
L 95.010124 241.056 
L 101.246906 250.845786 
L 105.892406 257.083913 
L 103.419271 249.32468 
L 100.464119 237.907134 
L 100.80204 236.291855 
L 105.709264 234.878848 
L 108.389729 234.65111 
L 115.908672 240.579507 
L 124.764814 246.250197 
L 127.727233 248.595656 
L 132.29622 252.47178 
L 140.624336 257.492718 
L 148.408528 262.832493 
L 155.904729 268.63945 
L 163.434713 274.902262 
L 163.541469 275.094503 
L 160.552268 281.856446 
L 160.053601 282.153079 
L 147.451997 283.280012 
L 147.27821 283.281179 
L 135.093721 281.848008 
L 130.009931 280.674291 
L 133.922214 283.521094 
L 143.712 289.757876 
L 154.008105 295.117689 
L 164.02184 299.298913 
L 165.634211 297.081397 
L 168.669537 293.116943 
L 179.438973 289.478999 
L 180.256048 288.936167 
L 185.106474 282.52189 
L 183.01323 276.139691 
L 181.55373 273.960711 
z
" clip-path="url(#pded382b021)" style="fill: #9bd93c"/>
    <path d="M 304.035949 120.374884 
L 307.148969 129.338606 
L 310.570274 138.010767 
L 315.311979 146.374048 
L 318.982602 152.861876 
L 320.054148 155.164803 
L 324.294639 164.549512 
L 328.21235 174.528 
L 328.508801 175.397932 
L 331.747188 185.158501 
L 333.624897 196.284086 
L 333.800286 197.425525 
L 340.272613 202.731168 
L 341.27458 197.632932 
L 341.930813 193.539283 
L 335.433942 185.481051 
L 335.426602 185.471285 
L 331.385238 174.528 
L 328.557679 164.176544 
L 327.827866 161.82525 
L 325.006434 154.291581 
L 321.010807 144.847052 
L 317.489858 135.492244 
L 314.52596 125.898658 
L 313.283436 116.473575 
L 321.039922 115.242098 
L 326.399751 120.361819 
L 335.124348 129.073815 
L 335.366213 129.28057 
L 335.271741 129.020168 
L 331.542243 119.850172 
L 330.196649 118.591296 
L 323.498166 109.138368 
L 314.773237 104.783872 
L 310.316314 104.45381 
L 305.273685 104.122995 
L 302.396643 109.999224 
L 302.055051 112.363936 
z
M 163.434713 274.902262 
L 155.904729 268.63945 
L 148.408528 262.832493 
L 140.624336 257.492718 
L 132.29622 252.47178 
L 127.727233 248.595656 
L 124.764814 246.250197 
L 115.908672 240.579507 
L 108.389729 234.65111 
L 105.709264 234.878848 
L 100.80204 236.291855 
L 100.464119 237.907134 
L 103.419271 249.32468 
L 105.892406 257.083913 
L 108.313191 260.054748 
L 116.1552 268.6128 
L 124.713252 276.454809 
L 130.009931 280.674291 
L 135.093721 281.848008 
L 147.27821 283.281179 
L 147.451997 283.280012 
L 160.053601 282.153079 
L 160.552268 281.856446 
L 163.541469 275.094503 
z
" clip-path="url(#pded382b021)" style="fill: #dfe318"/>
   </g>
   <g id="matplotlib.axis_1">
    <g id="xtick_1">
     <g id="line2d_1">
      <path d="M 210.6000 174.5280 L 210.6000 41.4720" clip-path="url(#pded382b021)" style="fill: none; stroke: #b0b0b0; stroke-width: 0.8; stroke-linecap: square"/>
     </g>
     <g id="text_1">
      <text style="font-size: 10px; font-family: 'DejaVu Sans', 'Liberation Sans', sans-serif; text-anchor: middle" x="210.24" y="30.231375" transform="rotate(-0 210.24 30.231375)">0°</text>
     </g>
    </g>
    <g id="xtick_2">
     <g id="line2d_2">
      <path d="M 210.2400 174.5280 L 304.3248 80.4432" clip-path="url(#pded382b021)" style="fill: none; stroke: #b0b0b0; stroke-width: 0.8; stroke-linecap: square"/>
     </g>
     <g id="text_2">
      <text style="font-size: 10px; font-family: 'DejaVu Sans', 'Liberation Sans', sans-serif; text-anchor: middle" x="314.224295" y="73.30308" transform="rotate(-0 314.224295 73.30308)">45°</text>
     </g>
    </g>
    <g id="xtick_3">
     <g id="line2d_3">
      <path d="M 210.2400 174.6000 L 343.2960 174.6000" clip-path="url(#pded382b021)" style="fill: none; stroke: #b0b0b0; stroke-width: 0.8; stroke-linecap: square"/>
     </g>
     <g id="text_3">
      <text style="font-size: 10px; font-family: 'DejaVu Sans', 'Liberation Sans', sans-serif; text-anchor: middle" x="357.296" y="177.287375" transform="rotate(-0 357.296 177.287375)">90°</text>
     </g>
    </g>
    <g id="xtick_4">
     <g id="line2d_4">
      <path d="M 210.2400 174.5280 L 304.3248 268.6128" clip-path="url(#pded382b021)" style="fill: none; stroke: #b0b0b0; stroke-width: 0.8; stroke-linecap: square"/>
     </g>
     <g id="text_4">
      <text style="font-size: 10px; font-family: 'DejaVu Sans', 'Liberation Sans', sans-serif; text-anchor: middle" x="314.224295" y="281.27167" transform="rotate(-0 314.224295 281.27167)">135°</text>
     </g>
    </g>
    <g id="xtick_5">
     <g id="line2d_5">
      <path d="M 210.6000 174.5280 L 210.6000 307.5840" clip-path="url(#pded382b021)" style="fill: none; stroke: #b0b0b0; stroke-width: 0.8; stroke-linecap: square"/>
     </g>
     <g id="text_5">
      <text style="font-size: 10px; font-family: 'DejaVu Sans', 'Liberation Sans', sans-serif; text-anchor: middle" x="210.24" y="325.06" transform="rotate(-0 210.24 325.06)">180°</text>
     </g>
    </g>
    <g id="xtick_6">
     <g id="line2d_6">
      <path d="M 210.2400 174.5280 L 116.1552 268.6128" clip-path="url(#pded382b021)" style="fill: none; stroke: #b0b0b0; stroke-width: 0.8; stroke-linecap: square"/>
     </g>
     <g id="text_6">
      <text style="font-size: 10px; font-family: 'DejaVu Sans', 'Liberation Sans', sans-serif; text-anchor: middle" x="106.255705" y="281.27167" transform="rotate(-0 106.255705 281.27167)">225°</text>
     </g>
    </g>
    <g id="xtick_7">
     <g id="line2d_7">
      <path d="M 210.2400 174.6000 L 77.1840 174.6000" clip-path="url(#pded382b021)" style="fill: none; stroke: #b0b0b0; stroke-width: 0.8; stroke-linecap: square"/>
     </g>
     <g id="text_7">
      <text style="font-size: 10px; font-family: 'DejaVu Sans', 'Liberation Sans', sans-serif; text-anchor: middle" x="63.184" y="177.287375" transform="rotate(-0 63.184 177.287375)">270°</text>
     </g>
    </g>
    <g id="xtick_8">
     <g id="line2d_8">
      <path d="M 210.2400 174.5280 L 116.1552 80.4432" clip-path="url(#pded382b021)" style="fill: none; stroke: #b0b0b0; stroke-width: 0.8; stroke-linecap: square"/>
     </g>
     <g id="text_8">
      <text style="font-size: 10px; font-family: 'DejaVu Sans', 'Liberation Sans', sans-serif; text-anchor: middle" x="106.255705" y="73.30308" transform="rotate(-0 106.255705 73.30308)">315°</text>
     </g>
    </g>
   </g>
   <g id="matplotlib.axis_2">
    <g id="ytick_1">
     <g id="line2d_9">
      <path d="M 210.24 159.744 
C 212.181417 159.744 214.103956 160.126417 215.897592 160.869365 
C 217.691227 161.612313 219.321077 162.701344 220.693867 164.074133 
C 222.066656 165.446923 223.155687 167.076773 223.898635 168.870408 
C 224.641583 170.664044 225.024 172.586583 225.024 174.528 
C 225.024 176.469417 224.641583 178.391956 223.898635 180.185592 
C 223.155687 181.979227 222.066656 183.609077 220.693867 184.981867 
C 219.321077 186.354656 217.691227 187.443687 215.897592 188.186635 
C 214.103956 188.929583 212.181417 189.312 210.24 189.312 
C 208.298583 189.312 206.376044 188.929583 204.582408 188.186635 
C 202.788773 187.443687 201.158923 186.354656 199.786133 184.981867 
C 198.413344 183.609077 197.324313 181.979227 196.581365 180.185592 
C 195.838417 178.391956 195.456 176.469417 195.456 174.528 
C 195.456 172.586583 195.838417 170.664044 196.581365 168.870408 
C 197.324313 167.076773 198.413344 165.446923 199.786133 164.074133 
C 201.158923 162.701344 202.788773 161.612313 204.582408 160.869365 
C 206.376044 160.126417 208.298583 159.744 210.24 159.744 
" clip-path="url(#pded382b021)" style="fill: none; stroke: #b0b0b0; stroke-width: 0.8; stroke-linecap: square"/>
     </g>
     <g id="text_9">
      <text style="font-size: 10px; font-family: 'DejaVu Sans', 'Liberation Sans', sans-serif; text-anchor: start" x="215.897592" y="158.789677" transform="rotate(-0 215.897592 158.789677)">10</text>
     </g>
    </g>
    <g id="ytick_2">
     <g id="line2d_10">
      <path d="M 210.24 144.96 
C 214.122834 144.96 217.967913 145.724834 221.555184 147.21073 
C 225.142455 148.696626 228.402155 150.874688 231.147733 153.620267 
C 233.893312 156.365845 236.071374 159.625545 237.55727 163.212816 
C 239.043166 166.800087 239.808 170.645166 239.808 174.528 
C 239.808 178.410834 239.043166 182.255913 237.55727 185.843184 
C 236.071374 189.430455 233.893312 192.690155 231.147733 195.435733 
C 228.402155 198.181312 225.142455 200.359374 221.555184 201.84527 
C 217.967913 203.331166 214.122834 204.096 210.24 204.096 
C 206.357166 204.096 202.512087 203.331166 198.924816 201.84527 
C 195.337545 200.359374 192.077845 198.181312 189.332267 195.435733 
C 186.586688 192.690155 184.408626 189.430455 182.92273 185.843184 
C 181.436834 182.255913 180.672 178.410834 180.672 174.528 
C 180.672 170.645166 181.436834 166.800087 182.92273 163.212816 
C 184.408626 159.625545 186.586688 156.365845 189.332267 153.620267 
C 192.077845 150.874688 195.337545 148.696626 198.924816 147.21073 
C 202.512087 145.724834 206.357166 144.96 210.24 144.96 
" clip-path="url(#pded382b021)" style="fill: none; stroke: #b0b0b0; stroke-width: 0.8; stroke-linecap: square"/>
     </g>
     <g id="text_10">
      <text style="font-size: 10px; font-family: 'DejaVu Sans', 'Liberation Sans', sans-serif; text-anchor: start" x="221.555184" y="145.131042" transform="rotate(-0 221.555184 145.131042)">20</text>
     </g>
    </g>
    <g id="ytick_3">
     <g id="line2d_11">
      <path d="M 210.24 130.176 
C 216.064251 130.176 221.831869 131.323251 227.212776 133.552095 
C 232.593682 135.780939 237.483232 139.048032 241.6016 143.1664 
C 245.719968 147.284768 248.987061 152.174318 251.215905 157.555224 
C 253.444749 162.936131 254.592 168.703749 254.592 174.528 
C 254.592 180.352251 253.444749 186.119869 251.215905 191.500776 
C 248.987061 196.881682 245.719968 201.771232 241.6016 205.8896 
C 237.483232 210.007968 232.593682 213.275061 227.212776 215.503905 
C 221.831869 217.732749 216.064251 218.88 210.24 218.88 
C 204.415749 218.88 198.648131 217.732749 193.267224 215.503905 
C 187.886318 213.275061 182.996768 210.007968 178.8784 205.8896 
C 174.760032 201.771232 171.492939 196.881682 169.264095 191.500776 
C 167.035251 186.119869 165.888 180.352251 165.888 174.528 
C 165.888 168.703749 167.035251 162.936131 169.264095 157.555224 
C 171.492939 152.174318 174.760032 147.284768 178.8784 143.1664 
C 182.996768 139.048032 187.886318 135.780939 193.267224 133.552095 
C 198.648131 131.323251 204.415749 130.176 210.24 130.176 
" clip-path="url(#pded382b021)" style="fill: none; stroke: #b0b0b0; stroke-width: 0.8; stroke-linecap: square"/>
     </g>
     <g id="text_11">
      <text style="font-size: 10px; font-family: 'DejaVu Sans', 'Liberation Sans', sans-serif; text-anchor: start" x="227.212776" y="131.472407" transform="rotate(-0 227.212776 131.472407)">30</text>
     </g>
    </g>
    <g id="ytick_4">
     <g id="line2d_12">
      <path d="M 210.24 115.392 
C 218.005668 115.392 225.695825 116.921667 232.870367 119.89346 
C 240.04491 122.865253 246.56431 127.221377 252.055467 132.712533 
C 257.546623 138.20369 261.902747 144.72309 264.87454 151.897633 
C 267.846333 159.072175 269.376 166.762332 269.376 174.528 
C 269.376 182.293668 267.846333 189.983825 264.87454 197.158367 
C 261.902747 204.33291 257.546623 210.85231 252.055467 216.343467 
C 246.56431 221.834623 240.04491 226.190747 232.870367 229.16254 
C 225.695825 232.134333 218.005668 233.664 210.24 233.664 
C 202.474332 233.664 194.784175 232.134333 187.609633 229.16254 
C 180.43509 226.190747 173.91569 221.834623 168.424533 216.343467 
C 162.933377 210.85231 158.577253 204.33291 155.60546 197.158367 
C 152.633667 189.983825 151.104 182.293668 151.104 174.528 
C 151.104 166.762332 152.633667 159.072175 155.60546 151.897633 
C 158.577253 144.72309 162.933377 138.20369 168.424533 132.712533 
C 173.91569 127.221377 180.43509 122.865253 187.609633 119.89346 
C 194.784175 116.921667 202.474332 115.392 210.24 115.392 
" clip-path="url(#pded382b021)" style="fill: none; stroke: #b0b0b0; stroke-width: 0.8; stroke-linecap: square"/>
     </g>
     <g id="text_12">
      <text style="font-size: 10px; font-family: 'DejaVu Sans', 'Liberation Sans', sans-serif; text-anchor: start" x="232.870367" y="117.813772" transform="rotate(-0 232.870367 117.813772)">40</text>
     </g>
    </g>
    <g id="ytick_5">
     <g id="line2d_13">
      <path d="M 210.24 100.608 
C 219.947085 100.608 229.559782 102.520084 238.527959 106.234825 
C 247.496137 109.949566 255.645387 115.394721 262.509333 122.258667 
C 269.373279 129.122613 274.818434 137.271863 278.533175 146.240041 
C 282.247916 155.208218 284.16 164.820915 284.16 174.528 
C 284.16 184.235085 282.247916 193.847782 278.533175 202.815959 
C 274.818434 211.784137 269.373279 219.933387 262.509333 226.797333 
C 255.645387 233.661279 247.496137 239.106434 238.527959 242.821175 
C 229.559782 246.535916 219.947085 248.448 210.24 248.448 
C 200.532915 248.448 190.920218 246.535916 181.952041 242.821175 
C 172.983863 239.106434 164.834613 233.661279 157.970667 226.797333 
C 151.106721 219.933387 145.661566 211.784137 141.946825 202.815959 
C 138.232084 193.847782 136.32 184.235085 136.32 174.528 
C 136.32 164.820915 138.232084 155.208218 141.946825 146.240041 
C 145.661566 137.271863 151.106721 129.122613 157.970667 122.258667 
C 164.834613 115.394721 172.983863 109.949566 181.952041 106.234825 
C 190.920218 102.520084 200.532915 100.608 210.24 100.608 
" clip-path="url(#pded382b021)" style="fill: none; stroke: #b0b0b0; stroke-width: 0.8; stroke-linecap: square"/>
     </g>
     <g id="text_13">
      <text style="font-size: 10px; font-family: 'DejaVu Sans', 'Liberation Sans', sans-serif; text-anchor: start" x="238.527959" y="104.155137" transform="rotate(-0 238.527959 104.155137)">50</text>
     </g>
    </g>
    <g id="ytick_6">
     <g id="line2d_14">
      <path d="M 210.24 85.824 
C 221.888503 85.824 233.423738 88.118501 244.185551 92.57619 
C 254.947364 97.033879 264.726465 103.568065 272.9632 111.8048 
C 281.199935 120.041535 287.734121 129.820636 292.19181 140.582449 
C 296.649499 151.344262 298.944 162.879497 298.944 174.528 
C 298.944 186.176503 296.649499 197.711738 292.19181 208.473551 
C 287.734121 219.235364 281.199935 229.014465 272.9632 237.2512 
C 264.726465 245.487935 254.947364 252.022121 244.185551 256.47981 
C 233.423738 260.937499 221.888503 263.232 210.24 263.232 
C 198.591497 263.232 187.056262 260.937499 176.294449 256.47981 
C 165.532636 252.022121 155.753535 245.487935 147.5168 237.2512 
C 139.280065 229.014465 132.745879 219.235364 128.28819 208.473551 
C 123.830501 197.711738 121.536 186.176503 121.536 174.528 
C 121.536 162.879497 123.830501 151.344262 128.28819 140.582449 
C 132.745879 129.820636 139.280065 120.041535 147.5168 111.8048 
C 155.753535 103.568065 165.532636 97.033879 176.294449 92.57619 
C 187.056262 88.118501 198.591497 85.824 210.24 85.824 
" clip-path="url(#pded382b021)" style="fill: none; stroke: #b0b0b0; stroke-width: 0.8; stroke-linecap: square"/>
     </g>
     <g id="text_14">
      <text style="font-size: 10px; font-family: 'DejaVu Sans', 'Liberation Sans', sans-serif; text-anchor: start" x="244.185551" y="90.496502" transform="rotate(-0 244.185551 90.496502)">60</text>
     </g>
    </g>
    <g id="ytick_7">
     <g id="line2d_15">
      <path d="M 210.24 71.04 
C 223.82992 71.04 237.287694 73.716918 249.843143 78.917555 
C 262.398592 84.118192 273.807542 91.741409 283.417067 101.350933 
C 293.026591 110.960458 300.649808 122.369408 305.850445 134.924857 
C 311.051082 147.480306 313.728 160.93808 313.728 174.528 
C 313.728 188.11792 311.051082 201.575694 305.850445 214.131143 
C 300.649808 226.686592 293.026591 238.095542 283.417067 247.705067 
C 273.807542 257.314591 262.398592 264.937808 249.843143 270.138445 
C 237.287694 275.339082 223.82992 278.016 210.24 278.016 
C 196.65008 278.016 183.192306 275.339082 170.636857 270.138445 
C 158.081408 264.937808 146.672458 257.314591 137.062933 247.705067 
C 127.453409 238.095542 119.830192 226.686592 114.629555 214.131143 
C 109.428918 201.575694 106.752 188.11792 106.752 174.528 
C 106.752 160.93808 109.428918 147.480306 114.629555 134.924857 
C 119.830192 122.369408 127.453409 110.960458 137.062933 101.350933 
C 146.672458 91.741409 158.081408 84.118192 170.636857 78.917555 
C 183.192306 73.716918 196.65008 71.04 210.24 71.04 
" clip-path="url(#pded382b021)" style="fill: none; stroke: #b0b0b0; stroke-width: 0.8; stroke-linecap: square"/>
     </g>
     <g id="text_15">
      <text style="font-size: 10px; font-family: 'DejaVu Sans', 'Liberation Sans', sans-serif; text-anchor: start" x="249.843143" y="76.837867" transform="rotate(-0 249.843143 76.837867)">70</text>
     </g>
    </g>
    <g id="ytick_8">
     <g id="line2d_16">
      <path d="M 210.24 56.256 
C 225.771337 56.256 241.151651 59.315335 255.500735 65.25892 
C 269.849819 71.202505 282.88862 79.914753 293.870933 90.897067 
C 304.853247 101.87938 313.565495 114.918181 319.50908 129.267265 
C 325.452665 143.616349 328.512 158.996663 328.512 174.528 
C 328.512 190.059337 325.452665 205.439651 319.50908 219.788735 
C 313.565495 234.137819 304.853247 247.17662 293.870933 258.158933 
C 282.88862 269.141247 269.849819 277.853495 255.500735 283.79708 
C 241.151651 289.740665 225.771337 292.8 210.24 292.8 
C 194.708663 292.8 179.328349 289.740665 164.979265 283.79708 
C 150.630181 277.853495 137.59138 269.141247 126.609067 258.158933 
C 115.626753 247.17662 106.914505 234.137819 100.97092 219.788735 
C 95.027335 205.439651 91.968 190.059337 91.968 174.528 
C 91.968 158.996663 95.027335 143.616349 100.97092 129.267265 
C 106.914505 114.918181 115.626753 101.87938 126.609067 90.897067 
C 137.59138 79.914753 150.630181 71.202505 164.979265 65.25892 
C 179.328349 59.315335 194.708663 56.256 210.24 56.256 
" clip-path="url(#pded382b021)" style="fill: none; stroke: #b0b0b0; stroke-width: 0.8; stroke-linecap: square"/>
     </g>
     <g id="text_16">
      <text style="font-size: 10px; font-family: 'DejaVu Sans', 'Liberation Sans', sans-serif; text-anchor: start" x="255.500735" y="63.179232" transform="rotate(-0 255.500735 63.179232)">80</text>
     </g>
    </g>
    <g id="ytick_9">
     <g id="line2d_17">
      <path d="M 210.24 41.472 
C 227.712754 41.472 245.015607 44.913752 261.158327 51.600285 
C 277.301046 58.286818 291.969697 68.088097 304.3248 80.4432 
C 316.679903 92.798303 326.481182 107.466954 333.167715 123.609673 
C 339.854248 139.752393 343.296 157.055246 343.296 174.528 
C 343.296 192.000754 339.854248 209.303607 333.167715 225.446327 
C 326.481182 241.589046 316.679903 256.257697 304.3248 268.6128 
C 291.969697 280.967903 277.301046 290.769182 261.158327 297.455715 
C 245.015607 304.142248 227.712754 307.584 210.24 307.584 
C 192.767246 307.584 175.464393 304.142248 159.321673 297.455715 
C 143.178954 290.769182 128.510303 280.967903 116.1552 268.6128 
C 103.800097 256.257697 93.998818 241.589046 87.312285 225.446327 
C 80.625752 209.303607 77.184 192.000754 77.184 174.528 
C 77.184 157.055246 80.625752 139.752393 87.312285 123.609673 
C 93.998818 107.466954 103.800097 92.798303 116.1552 80.4432 
C 128.510303 68.088097 143.178954 58.286818 159.321673 51.600285 
C 175.464393 44.913752 192.767246 41.472 210.24 41.472 
" clip-path="url(#pded382b021)" style="fill: none; stroke: #b0b0b0; stroke-width: 0.8; stroke-linecap: square"/>
     </g>
     <g id="text_17">
      <text style="font-size: 10px; font-family: 'DejaVu Sans', 'Liberation Sans', sans-serif; text-anchor: start" x="261.158327" y="49.520597" transform="rotate(-0 261.158327 49.520597)">90</text>
     </g>
    </g>
   </g>
   <g id="patch_3">
    <path d="M 210.24 41.472 
C 192.767246 41.472 175.464393 44.913752 159.321673 51.600285 
C 143.178954 58.286818 128.510303 68.088097 116.1552 80.4432 
C 103.800097 92.798303 93.998818 107.466954 87.312285 123.609673 
C 80.625752 139.752393 77.184 157.055246 77.184 174.528 
C 77.184 192.000754 80.625752 209.303607 87.312285 225.446327 
C 93.998818 241.589046 103.800097 256.257697 116.1552 268.6128 
C 128.510303 280.967903 143.178954 290.769182 159.321673 297.455715 
C 175.464393 304.142248 192.767246 307.584 210.24 307.584 
C 227.712754 307.584 245.015607 304.142248 261.158327 297.455715 
C 277.301046 290.769182 291.969697 280.967903 304.3248 268.6128 
C 316.679903 256.257697 326.481182 241.589046 333.167715 225.446327 
C 339.854248 209.303607 343.296 192.000754 343.296 174.528 
C 343.296 157.055246 339.854248 139.752393 333.167715 123.609673 
C 326.481182 107.466954 316.679903 92.798303 304.3248 80.4432 
C 291.969697 68.088097 277.301046 58.286818 261.158327 51.600285 
C 245.015607 44.913752 227.712754 41.472 210.24 41.472 
" style="fill: none; stroke: #000000; stroke-width: 0.8; stroke-linejoin: miter; stroke-linecap: square"/>
   </g>
   <g id="text_18">
    <text style="font-size: 12.05px; font-family: 'DejaVu Sans', 'Liberation Sans', sans-serif; text-anchor: start" y="16.43"><tspan x="27.900">Delta Antenna Phase Biases: TRSAX4E02</tspan><tspan x="271.008">        NONE QZSS-L5</tspan></text>
   </g>
  </g>
  <g id="axes_2">
   <g id="patch_4">
    <path d="M 361.152 307.584 
L 374.4576 307.584 
L 374.4576 41.472 
L 361.152 41.472 
z
" style="fill: #ffffff"/>
   </g>
   <g id="QuadMesh_1" shape-rendering="crispEdges">
    <path d="M 361.152 307.584 
L 374.4576 307.584 
L 374.4576 280.9728 
L 361.152 280.9728 
L 361.152 307.584 
" clip-path="url(#p67af23f93f)" style="fill: #471365"/>
    <path d="M 361.152 280.9728 
L 374.4576 280.9728 
L 374.4576 254.3616 
L 361.152 254.3616 
L 361.152 280.9728 
" clip-path="url(#p67af23f93f)" style="fill: #463480"/>
    <path d="M 361.152 254.3616 
L 374.4576 254.3616 
L 374.4576 227.7504 
L 361.152 227.7504 
L 361.152 254.3616 
" clip-path="url(#p67af23f93f)" style="fill: #3b528b"/>
    <path d="M 361.152 227.7504 
L 374.4576 227.7504 
L 374.4576 201.1392 
L 361.152 201.1392 
L 361.152 227.7504 
" clip-path="url(#p67af23f93f)" style="fill: #2f6c8e"/>
    <path d="M 361.152 201.1392 
L 374.4576 201.1392 
L 374.4576 174.528 
L 361.152 174.528 
L 361.152 201.1392 
" clip-path="url(#p67af23f93f)" style="fill: #25848e"/>
    <path d="M 361.152 174.528 
L 374.4576 174.528 
L 374.4576 147.9168 
L 361.152 147.9168 
L 361.152 174.528 
" clip-path="url(#p67af23f93f)" style="fill: #1e9c89"/>
    <path d="M 361.152 147.9168 
L 374.4576 147.9168 
L 374.4576 121.3056 
L 361.152 121.3056 
L 361.152 147.9168 
" clip-path="url(#p67af23f93f)" style="fill: #2fb47c"/>
    <path d="M 361.152 121.3056 
L 374.4576 121.3056 
L 374.4576 94.6944 
L 361.152 94.6944 
L 361.152 121.3056 
" clip-path="url(#p67af23f93f)" style="fill: #5ec962"/>
    <path d="M 361.152 94.6944 
L 374.4576 94.6944 
L 374.4576 68.0832 
L 361.152 68.0832 
L 361.152 94.6944 
" clip-path="url(#p67af23f93f)" style="fill: #9bd93c"/>
    <path d="M 361.152 68.0832 
L 374.4576 68.0832 
L 374.4576 41.472 
L 361.152 41.472 
L 361.152 68.0832 
" clip-path="url(#p67af23f93f)" style="fill: #dfe318"/>
   </g>
   <g id="matplotlib.axis_3"/>
   <g id="matplotlib.axis_4">
    <g id="ytick_10">
     <g id="line2d_18">
      <defs>
       <path id="m33c4ce201d" d="M 0 0 
L 3.5 0 
" style="stroke: #000000; stroke-width: 0.8"/>
      </defs>
      <g>
       <use href="#m33c4ce201d" x="374.7600" y="281.1600" style="stroke: #000000; stroke-width: 0.8"/>
      </g>
     </g>
     <g id="text_19">
      <text style="font-size: 10px; font-family: 'DejaVu Sans', 'Liberation Sans', sans-serif; text-anchor: start" x="381.8176" y="284.772019" transform="rotate(-0 381.4576 284.772019)">−4</text>
     </g>
    </g>
    <g id="ytick_11">
     <g id="line2d_19">
      <g>
       <use href="#m33c4ce201d" x="374.7600" y="227.8800" style="stroke: #000000; stroke-width: 0.8"/>
      </g>
     </g>
     <g id="text_20">
      <text style="font-size: 10px; font-family: 'DejaVu Sans', 'Liberation Sans', sans-serif; text-anchor: start" x="381.8176" y="231.549619" transform="rotate(-0 381.4576 231.549619)">−2</text>
     </g>
    </g>
    <g id="ytick_12">
     <g id="line2d_20">
      <g>
       <use href="#m33c4ce201d" x="374.7600" y="174.6000" style="stroke: #000000; stroke-width: 0.8"/>
      </g>
     </g>
     <g id="text_21">
      <text style="font-size: 10px; font-family: 'DejaVu Sans', 'Liberation Sans', sans-serif; text-anchor: start" x="381.8176" y="178.327219" transform="rotate(-0 381.4576 178.327219)">0</text>
     </g>
    </g>
    <g id="ytick_13">
     <g id="line2d_21">
      <g>
       <use href="#m33c4ce201d" x="374.7600" y="121.3200" style="stroke: #000000; stroke-width: 0.8"/>
      </g>
     </g>
     <g id="text_22">
      <text style="font-size: 10px; font-family: 'DejaVu Sans', 'Liberation Sans', sans-serif; text-anchor: start" x="381.8176" y="125.104819" transform="rotate(-0 381.4576 125.104819)">2</text>
     </g>
    </g>
    <g id="ytick_14">
     <g id="line2d_22">
      <g>
       <use href="#m33c4ce201d" x="374.7600" y="68.7600" style="stroke: #000000; stroke-width: 0.8"/>
      </g>
     </g>
     <g id="text_23">
      <text style="font-size: 10px; font-family: 'DejaVu Sans', 'Liberation Sans', sans-serif; text-anchor: start" x="381.8176" y="71.882419" transform="rotate(-0 381.4576 71.882419)">4</text>
     </g>
    </g>
    <g id="text_24">
     <text style="font-size: 10px; font-family: 'DejaVu Sans', 'Liberation Sans', sans-serif; text-anchor: middle" x="407.798225" y="174.528" transform="rotate(-90 407.798225 174.528)">Bias (mm)</text>
    </g>
   </g>
   <g id="LineCollection_1"/>
   <g id="patch_5">
    <path d="M 361.8000 307.8000 L 374.7600 307.8000 L 374.7600 42.1200 L 361.8000 42.1200 z" style="fill: none; stroke: #000000; stroke-width: 0.8; stroke-linejoin: miter; stroke-linecap: square"/>
   </g>
  </g>
 </g>
 <defs>
  <clipPath id="pded382b021">
   <path d="M 343.296 174.528 
C 343.296 157.055246 339.854248 139.752393 333.167715 123.609673 
C 326.481182 107.466954 316.679903 92.798303 304.3248 80.4432 
C 291.969697 68.088097 277.301046 58.286818 261.158327 51.600285 
C 245.015607 44.913752 227.712754 41.472 210.24 41.472 
C 192.767246 41.472 175.464393 44.913752 159.321673 51.600285 
C 143.178954 58.286818 128.510303 68.088097 116.1552 80.4432 
C 103.800097 92.798303 93.998818 107.466954 87.312285 123.609673 
C 80.625752 139.752393 77.184 157.055246 77.184 174.528 
C 77.184 192.000754 80.625752 209.303607 87.312285 225.446327 
C 93.998818 241.589046 103.800097 256.257697 116.1552 268.6128 
C 128.510303 280.967903 143.178954 290.769182 159.321673 297.455715 
C 175.464393 304.142248 192.767246 307.584 210.24 307.584 
C 227.712754 307.584 245.015607 304.142248 261.158327 297.455715 
C 277.301046 290.769182 291.969697 280.967903 304.3248 268.6128 
C 316.679903 256.257697 326.481182 241.589046 333.167715 225.446327 
C 339.854248 209.303607 343.296 192.000754 343.296 174.528 
M 210.24 174.528 
C 210.24 174.528 210.24 174.528 210.24 174.528 
C 210.24 174.528 210.24 174.528 210.24 174.528 
C 210.24 174.528 210.24 174.528 210.24 174.528 
C 210.24 174.528 210.24 174.528 210.24 174.528 
C 210.24 174.528 210.24 174.528 210.24 174.528 
C 210.24 174.528 210.24 174.528 210.24 174.528 
C 210.24 174.528 210.24 174.528 210.24 174.528 
C 210.24 174.528 210.24 174.528 210.24 174.528 
C 210.24 174.528 210.24 174.528 210.24 174.528 
C 210.24 174.528 210.24 174.528 210.24 174.528 
C 210.24 174.528 210.24 174.528 210.24 174.528 
C 210.24 174.528 210.24 174.528 210.24 174.528 
C 210.24 174.528 210.24 174.528 210.24 174.528 
C 210.24 174.528 210.24 174.528 210.24 174.528 
C 210.24 174.528 210.24 174.528 210.24 174.528 
C 210.24 174.528 210.24 174.528 210.24 174.528 
z
"/>
  </clipPath>
  <clipPath id="p67af23f93f">
   <rect x="361.8000" y="42.1200" width="12.9600" height="265.6800"/>
  </clipPath>
 </defs>
</svg>

</body></html>
